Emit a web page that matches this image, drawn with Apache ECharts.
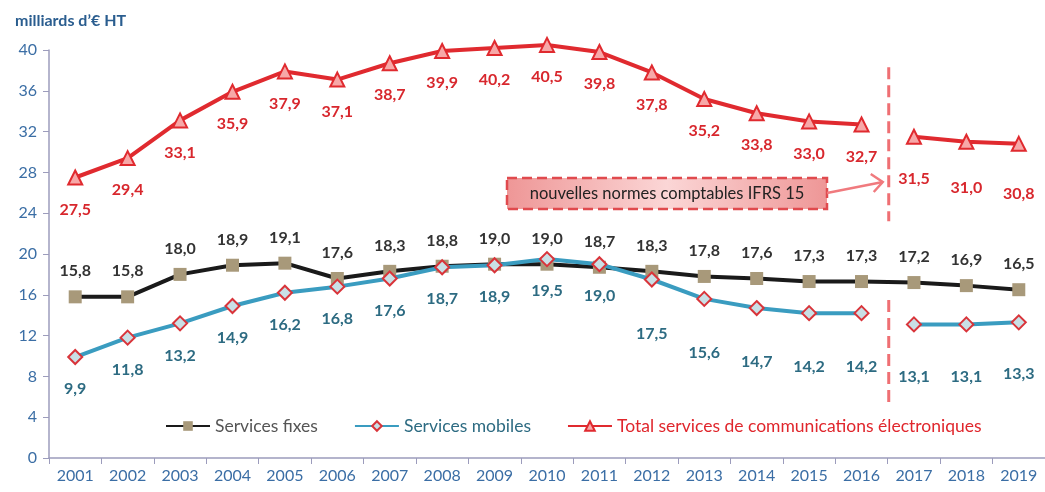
<!DOCTYPE html>
<html><head><meta charset="utf-8">
<script src="https://cdn.jsdelivr.net/npm/echarts@6/dist/echarts.min.js"></script>
<style>html,body{margin:0;padding:0;background:#fff}#c{width:1045px;height:492px}</style>
</head><body><div id="c"></div>
<script>
const years = ['2001','2002','2003','2004','2005','2006','2007','2008','2009','2010','2011','2012','2013','2014','2015','2016','2017','2018','2019'];
const fixes = [15.8,15.8,18.0,18.9,19.1,17.6,18.3,18.8,19.0,19.0,18.7,18.3,17.8,17.6,17.3,17.3,17.2,16.9,16.5];
const mobilesBefore = [9.9,11.8,13.2,14.9,16.2,16.8,17.6,18.7,18.9,19.5,19.0,17.5,15.6,14.7,14.2,14.2];
const mobilesAfter = [13.1,13.1,13.3];
const totalBefore = [27.5,29.4,33.1,35.9,37.9,37.1,38.7,39.9,40.2,40.5,39.8,37.8,35.2,33.8,33.0,32.7];
const totalAfter = [31.5,31.0,30.8];
const yTicks = {min:0, max:40, interval:4};

const FONT = 'Lato, "Open Sans", sans-serif';
const nB = mobilesBefore.length;
function pad(before, after){
  return before.concat(after.map(()=>'-'));
}
function padAfter(before, after){
  return before.map(()=>'-').concat(after);
}
const fmt = p => (typeof p.value === 'number' ? p.value.toFixed(1).replace('.', ',') : '');

const RED = '#e02a2f';
const TEAL = '#3a9cc0';
const names = ['Services fixes','Services mobiles','Total services de communications électroniques'];

function totalSeries(data, dist){
  return {name:names[2], type:'line', data:data, z:3, clip:false,
    lineStyle:{color:RED,width:4}, symbol:'triangle', symbolSize:14,
    itemStyle:{color:'#f7a8a8', borderColor:RED, borderWidth:2},
    label:{show:true, position:'bottom', distance:dist, formatter:fmt, color:'#d8272d', fontFamily:FONT, fontWeight:'bold', fontSize:16}};
}
function mobSeries(data, dist){
  return {name:names[1], type:'line', data:data, z:4, clip:false,
    lineStyle:{color:TEAL,width:4}, symbol:'diamond', symbolSize:14,
    itemStyle:{color:'#c9e0e6', borderColor:'#d9343a', borderWidth:2},
    label:{show:true, position:'bottom', distance:dist, formatter:fmt, color:'#2d6b82', fontFamily:FONT, fontWeight:'bold', fontSize:16}};
}

const chart = echarts.init(document.getElementById('c'));
const option = {
  animation:false,
  title:{text:"milliards d’€ HT", left:10, top:8, textStyle:{color:'#2a5d8f', fontFamily:FONT, fontWeight:'bold', fontSize:16}},
  grid:{left:49, right:-1, top:50, bottom:34},
  legend:{left:160, top:412, itemWidth:44, itemHeight:12, itemGap:36,
    textStyle:{fontFamily:FONT, fontSize:17.5},
    data:[{name:names[0], textStyle:{color:'#555'}},{name:names[1], textStyle:{color:'#2d6b82'}},{name:names[2], textStyle:{color:'#e0262c'}}]},
  xAxis:{type:'category', data:years, boundaryGap:true,
    axisLine:{lineStyle:{color:'#9c9cbc', width:1.5}},
    axisTick:{show:true, length:6, lineStyle:{color:'#9c9cbc'}},
    axisLabel:{color:'#3b6ea5', fontFamily:FONT, fontSize:16, margin:10}},
  yAxis:{type:'value', min:yTicks.min, max:yTicks.max, interval:yTicks.interval,
    axisLine:{show:true, lineStyle:{color:'#9c9cbc', width:1.5}},
    axisTick:{show:true, length:6, lineStyle:{color:'#9c9cbc'}},
    splitLine:{show:false},
    axisLabel:{color:'#3b6ea5', fontFamily:FONT, fontSize:16, margin:12}},
  series:[
    {name:names[0], type:'line', data:fixes, z:2, clip:false,
      lineStyle:{color:'#1a1a1a',width:4}, symbol:'rect', symbolSize:13,
      itemStyle:{color:'#a8997a', borderColor:'#a8997a', borderWidth:0},
      label:{show:true, position:'top', distance:11, formatter:fmt, color:'#333', fontFamily:FONT, fontWeight:'bold', fontSize:16}},
    Object.assign(mobSeries(pad(mobilesBefore, mobilesAfter), 16), {
      labelLayout: function(p){ return p.dataIndex >= 11 ? {dy:22} : {}; }
    }),
    mobSeries(padAfter(mobilesBefore, mobilesAfter), 36),
    totalSeries(pad(totalBefore, totalAfter), 16),
    Object.assign(totalSeries(padAfter(totalBefore, totalAfter), 16), {
      labelLayout: function(p){ return {dy: 10 + (p.dataIndex - nB) * 4}; }
    })
  ]
};
chart.setOption(option);

const x16 = chart.convertToPixel({xAxisIndex:0}, '2016');
const x17 = chart.convertToPixel({xAxisIndex:0}, '2017');
const xs = (x16 + x17) / 2 + 1;
const py = v => chart.convertToPixel({yAxisIndex:0}, v);
const dashStyle = {stroke:'#ef6f73', lineWidth:3, lineDash:[12,6]};
const bx = 507, by = 178, bw = 320, bh = 31;
chart.setOption({graphic:[
  {type:'line', shape:{x1:xs, y1:py(38.3), x2:xs, y2:py(23.2)}, style:dashStyle, z:1},
  {type:'line', shape:{x1:xs, y1:py(15.5), x2:xs, y2:py(5.5)}, style:dashStyle, z:1},
  {type:'rect', shape:{x:bx, y:by, width:bw, height:bh},
    style:{fill:new echarts.graphic.LinearGradient(0,0,1,0,[{offset:0,color:'#ee9696'},{offset:0.5,color:'#fbd6d6'},{offset:1,color:'#ee9696'}]),
      stroke:'#e04a4e', lineWidth:2.5, lineDash:[10,5]}, z:5},
  {type:'text', x:bx + bw/2, y:by + bh/2, style:{text:'nouvelles normes comptables IFRS 15', fill:'#222', font:'16.5px ' + FONT, align:'center', verticalAlign:'middle'}, z:6},
  {type:'line', shape:{x1:bx + bw, y1:by + 15, x2:xs - 6, y2:by + 4}, style:{stroke:'#f07a7e', lineWidth:2.5}, z:5},
  {type:'polyline', shape:{points:[[xs - 18, by - 4],[xs - 6, by + 4],[xs - 15, by + 14]]}, style:{stroke:'#f07a7e', lineWidth:2.5, fill:null}, z:5}
]});
</script>
</body></html>
